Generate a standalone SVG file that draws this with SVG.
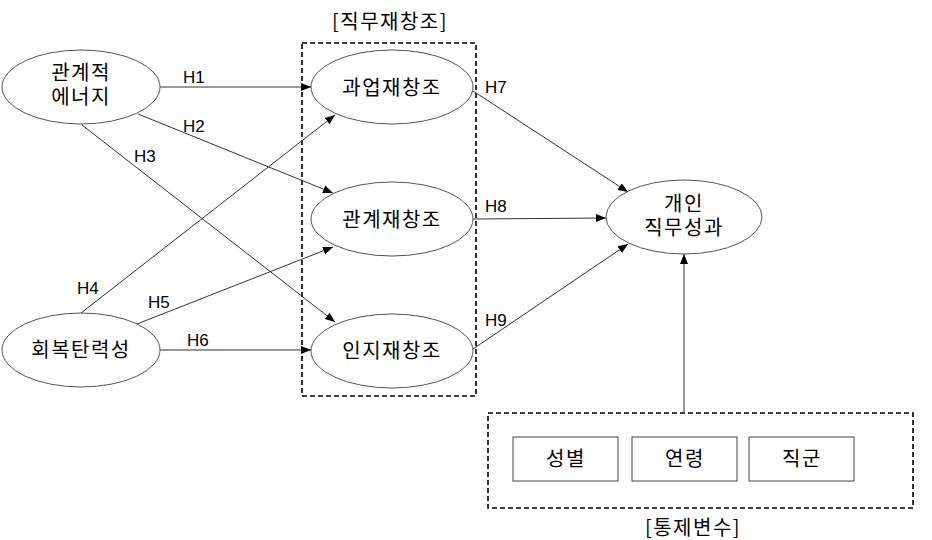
<svg xmlns="http://www.w3.org/2000/svg" width="932" height="540" viewBox="0 0 932 540">
<defs>
<marker id="arr" viewBox="0 0 10 10" refX="10" refY="5" markerWidth="10" markerHeight="10" markerUnits="userSpaceOnUse" orient="auto">
<path d="M0,1 L10,5 L0,9 Z" fill="#000"/>
</marker>
<style>
.node ellipse{fill:#fff;stroke:#555;stroke-width:1}
.box rect{fill:#fff;stroke:#444;stroke-width:1}
.dash{fill:none;stroke:#000;stroke-width:1.6;stroke-dasharray:5 3}
.k{font-family:"Noto Sans CJK KR","Noto Sans",sans-serif;font-size:20px;letter-spacing:1.5px;fill:#000;text-anchor:middle}
.h{font-family:"Liberation Sans",Arial,sans-serif;font-size:17px;fill:#000}
.edges line{stroke:#333;stroke-width:1;marker-end:url(#arr)}
</style>
</defs>
<rect width="932" height="540" fill="#fff"/>
<rect class="dash" x="302" y="43" width="174" height="353"/>
<text class="k" x="390" y="29">[직무재창조]</text>
<rect class="dash" x="488" y="413" width="425" height="95"/>
<text class="k" x="693" y="535">[통제변수]</text>
<g class="edges">
<line x1="160" y1="87" x2="311" y2="87"/>
<line x1="138" y1="114" x2="333" y2="193"/>
<line x1="82" y1="125" x2="335" y2="322"/>
<line x1="81" y1="313" x2="335" y2="115"/>
<line x1="137" y1="324" x2="333" y2="247"/>
<line x1="160" y1="350" x2="311" y2="350"/>
<line x1="470" y1="89" x2="628" y2="192"/>
<line x1="473" y1="219" x2="606" y2="218"/>
<line x1="473" y1="349" x2="628" y2="244"/>
<line x1="684" y1="413" x2="684" y2="254"/>
</g>
<g class="h">
<text x="183" y="83">H1</text>
<text x="183" y="132">H2</text>
<text x="134" y="162">H3</text>
<text x="77" y="294">H4</text>
<text x="148" y="308">H5</text>
<text x="187" y="346">H6</text>
<text x="485" y="93">H7</text>
<text x="485" y="212">H8</text>
<text x="485" y="326">H9</text>
</g>
<g id="n1" class="node"><ellipse cx="81" cy="87" rx="79" ry="37"/><text class="k"><tspan x="81" y="80">관계적</tspan><tspan x="81" y="104">에너지</tspan></text></g>
<g id="n2" class="node"><ellipse cx="81" cy="350" rx="79" ry="37"/><text class="k" x="81" y="357">회복탄력성</text></g>
<g id="n3" class="node"><ellipse cx="392" cy="87" rx="81" ry="37"/><text class="k" x="392" y="95">과업재창조</text></g>
<g id="n4" class="node"><ellipse cx="392" cy="219" rx="81" ry="37"/><text class="k" x="392" y="227">관계재창조</text></g>
<g id="n5" class="node"><ellipse cx="392" cy="351" rx="81" ry="37"/><text class="k" x="392" y="358">인지재창조</text></g>
<g id="n6" class="node"><ellipse cx="684" cy="217" rx="78" ry="37"/><text class="k"><tspan x="684" y="211">개인</tspan><tspan x="684" y="235">직무성과</tspan></text></g>
<g id="c1" class="box"><rect x="513" y="437" width="105" height="44"/><text class="k" x="566" y="466">성별</text></g>
<g id="c2" class="box"><rect x="632" y="437" width="105" height="44"/><text class="k" x="685" y="466">연령</text></g>
<g id="c3" class="box"><rect x="749" y="437" width="105" height="44"/><text class="k" x="802" y="466">직군</text></g>
</svg>
